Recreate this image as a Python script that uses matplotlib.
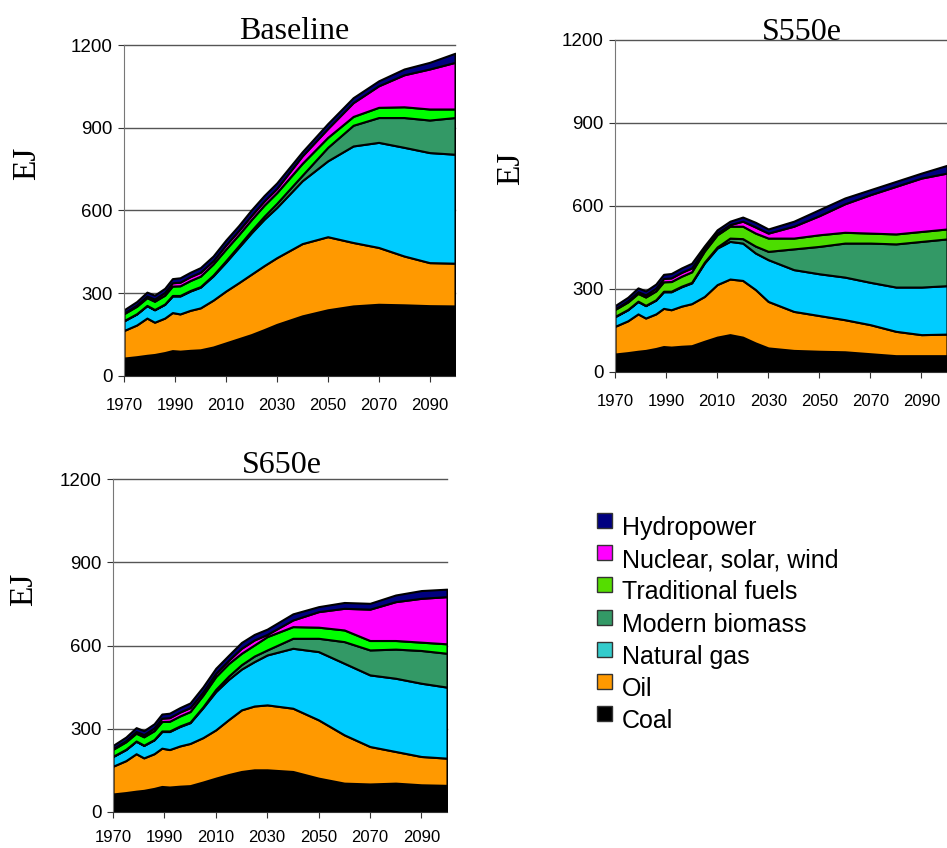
import matplotlib.pyplot as plt
from matplotlib.patches import Rectangle

years = [1970, 1975, 1979, 1982, 1986, 1989, 1992, 1996, 2000,
         2005, 2010, 2015, 2020, 2025, 2030, 2040, 2050, 2060, 2070, 2080, 2090, 2100]

# historical part (same for all scenarios), EJ
hist_coal = [65, 70, 75, 78, 85, 92, 90, 93, 95]
hist_oil = [100, 115, 135, 117, 125, 138, 135, 145, 152]
hist_gas = [35, 40, 45, 45, 50, 60, 65, 70, 75]
hist_bio = [1, 1, 1, 1, 1, 2, 2, 2, 2]
hist_trad = [25, 27, 28, 30, 32, 34, 35, 36, 38]
hist_nuc = [2, 4, 6, 8, 10, 12, 13, 14, 14]
hist_hydro = [12, 13, 14, 14, 15, 15, 16, 16, 17]

# Baseline 2005-2100
base_coal = [105, 120, 135, 150, 168, 187, 218, 240, 254, 260, 258, 255, 254]
base_oil = [170, 188, 203, 219, 232, 242, 262, 265, 230, 206, 177, 156, 155]
base_gas = [88, 105, 128, 150, 168, 182, 228, 275, 350, 381, 394, 399, 395]
base_bio = [3, 5, 6, 8, 11, 15, 20, 49, 75, 90, 108, 118, 133]
base_trad = [40, 42, 40, 40, 40, 39, 43, 36, 32, 37, 39, 40, 31]
base_nuc = [12, 15, 15, 15, 15, 15, 27, 32, 50, 78, 116, 145, 169]
base_hydro = [17, 18, 18, 20, 20, 20, 15, 18, 18, 18, 21, 24, 33]

# S550e 2005-2100
s550_coal = [111, 126, 135, 126, 105, 87, 78, 75, 73, 66, 59, 59, 59]
s550_oil = [162, 190, 201, 205, 193, 168, 141, 129, 116, 105, 88, 76, 78]
s550_gas = [121, 132, 136, 135, 132, 151, 151, 151, 154, 153, 160, 172, 175]
s550_bio = [3, 4, 12, 16, 25, 30, 75, 99, 123, 142, 156, 165, 169]
s550_trad = [40, 44, 43, 45, 47, 48, 39, 42, 39, 36, 36, 36, 36]
s550_nuc = [7, 6, 6, 18, 22, 18, 43, 69, 103, 139, 172, 193, 202]
s550_hydro = [12, 12, 12, 15, 17, 15, 18, 22, 21, 18, 18, 18, 28]

# S650e 2005-2100
s650_coal = [108, 122, 135, 146, 152, 152, 146, 122, 104, 101, 104, 98, 96]
s650_oil = [160, 174, 198, 222, 230, 234, 228, 210, 174, 135, 114, 102, 98]
s650_gas = [108, 138, 145, 147, 160, 180, 216, 246, 258, 258, 264, 264, 256]
s650_bio = [3, 8, 12, 16, 20, 18, 36, 48, 78, 90, 105, 118, 122]
s650_trad = [42, 46, 45, 41, 40, 48, 42, 40, 42, 34, 31, 30, 34]
s650_nuc = [12, 12, 12, 18, 18, 8, 24, 56, 78, 113, 140, 158, 170]
s650_hydro = [18, 18, 18, 21, 20, 19, 22, 18, 21, 21, 24, 28, 27]

labels = ["Hydropower", "Nuclear, solar, wind", "Traditional fuels",
          "Modern biomass", "Natural gas", "Oil", "Coal"]
legend_colors = ["#000080", "#FF00FF", "#55DD00", "#339966", "#33CCCC", "#FF9900", "#000000"]

sans = "Liberation Sans"
serif = "Liberation Serif"


def panel(ax, coal, oil, gas, bio, trad, nuc, hydro, trad_color, xpad):
    layers = [hist_coal + coal, hist_oil + oil, hist_gas + gas, hist_bio + bio,
              hist_trad + trad, hist_nuc + nuc, hist_hydro + hydro]
    cols = ["#000000", "#FF9900", "#00CCFF", "#339966", trad_color, "#FF00FF", "#000080"]
    ax.stackplot(years, *layers, colors=cols, edgecolor="black", linewidth=1.5, zorder=2)
    ax.set_xlim(1970, 2100)
    ax.set_ylim(0, 1200)
    for v in [300, 600, 900, 1200]:
        ax.axhline(v, color="#555555", lw=1, zorder=1, clip_on=False)
    ax.set_yticks([0, 300, 600, 900, 1200])
    ax.set_xticks(range(1970, 2100, 20))
    for s in ["top", "right"]:
        ax.spines[s].set_visible(False)
    ax.spines["left"].set_color("#777777")
    ax.spines["bottom"].set_color("#333333")
    ax.tick_params(axis="y", length=4, pad=4, labelsize=13.5, colors="#333333", labelcolor="black")
    ax.tick_params(axis="x", length=4, pad=xpad, labelsize=12, colors="#333333", labelcolor="black")
    for t in ax.get_xticklabels() + ax.get_yticklabels():
        t.set_fontfamily(sans)


fig = plt.figure(figsize=(9.47, 8.48), dpi=100)
W, H = 947.0, 848.0


def add_axes(left, top, right, bottom):
    return fig.add_axes([left / W, 1 - bottom / H, (right - left) / W, (bottom - top) / H])


ax1 = add_axes(124, 45, 455, 376)
panel(ax1, base_coal, base_oil, base_gas, base_bio, base_trad, base_nuc, base_hydro, "#00FF00", 12)
ax2 = add_axes(615, 40, 947, 372)
panel(ax2, s550_coal, s550_oil, s550_gas, s550_bio, s550_trad, s550_nuc, s550_hydro, "#4CDD00", 12)
ax3 = add_axes(113, 479, 447, 812)
panel(ax3, s650_coal, s650_oil, s650_gas, s650_bio, s650_trad, s650_nuc, s650_hydro, "#00FF00", 9)

# titles and EJ labels
for name, x, y in [("Baseline", 294, 39), ("S550e", 802, 40), ("S650e", 282, 473)]:
    fig.text(x / W, 1 - y / H, name, ha="center", va="baseline", fontsize=23, family=serif)
for x, y in [(27, 163), (511, 168), (24, 589)]:
    fig.text(x / W, 1 - y / H, "EJ", ha="center", va="center", rotation=90, fontsize=24, family=serif)

# legend
for i, (lab, c) in enumerate(zip(labels, legend_colors)):
    yb = 535 + 32.2 * i
    fig.patches.append(Rectangle((597 / W, 1 - (yb - 7) / H), 15 / W, 15 / H,
                                 transform=fig.transFigure, facecolor=c,
                                 edgecolor="#333333", lw=1))
    fig.text(622 / W, 1 - yb / H, lab, ha="left", va="baseline", fontsize=18, family=sans)

fig.savefig("out.png", dpi=100)
